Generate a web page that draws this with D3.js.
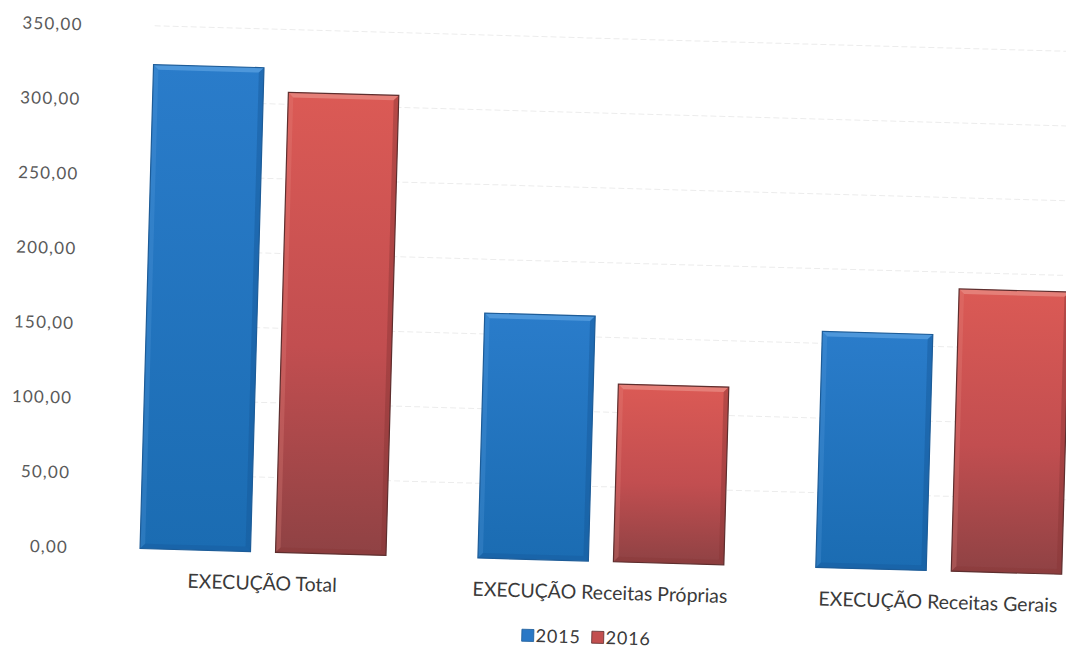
<!DOCTYPE html>
<html>
<head>
<meta charset="utf-8">
<script src="https://cdn.jsdelivr.net/npm/d3@7/dist/d3.min.js"></script>
<style>
  html, body { margin: 0; padding: 0; background: #ffffff; }
  svg { display: block; }
</style>
</head>
<body>
<svg id="chart" width="1066" height="651"></svg>
<script>
const categories = ["EXECUÇÃO Total", "EXECUÇÃO Receitas Próprias", "EXECUÇÃO Receitas Gerais"];
const seriesNames = ["2015", "2016"];
const values2015 = [324, 164, 158];
const values2016 = [308, 119, 189];
const yTickValues = [0, 50, 100, 150, 200, 250, 300, 350];
const yTickLabels = ["0,00", "50,00", "100,00", "150,00", "200,00", "250,00", "300,00", "350,00"];

const svg = d3.select("#chart");
const defs = svg.append("defs");

const gBlue = defs.append("linearGradient").attr("id", "gBlue").attr("x1", 0).attr("y1", 0).attr("x2", 0).attr("y2", 1);
gBlue.append("stop").attr("offset", "0%").attr("stop-color", "#2a7cca");
gBlue.append("stop").attr("offset", "100%").attr("stop-color", "#1b6cb2");
const gRed = defs.append("linearGradient").attr("id", "gRed").attr("x1", 0).attr("y1", 0).attr("x2", 0).attr("y2", 1);
gRed.append("stop").attr("offset", "0%").attr("stop-color", "#db5a55");
gRed.append("stop").attr("offset", "55%").attr("stop-color", "#c24e50");
gRed.append("stop").attr("offset", "100%").attr("stop-color", "#8f4244");

const colors = {
  "2015": { fill: "url(#gBlue)", stroke: "#1d5c98", hi: "#5aa0e0", sh: "#17599a", solid: "#2a78c6" },
  "2016": { fill: "url(#gRed)", stroke: "#5e2e2e", hi: "#e88c84", sh: "#8a3636", solid: "#c24f4f" }
};

const pivotX = 265, pivotY = 552, angle = 1.6;
const root = svg.append("g").attr("transform", `rotate(${angle},${pivotX},${pivotY})`);

const baseline = 552;
const y = d3.scaleLinear().domain([0, 350]).range([baseline, baseline - 350 * 1.494]);
const x0 = d3.scaleBand().domain(categories).range([94, 1108]);
const x1 = d3.scaleBand().domain(seriesNames).range([46, 292]).paddingInner(0.185);

// faint gridlines
root.append("g").selectAll("line").data(yTickValues.slice(1)).join("line")
  .attr("x1", 140).attr("x2", 1108)
  .attr("y1", d => y(d)).attr("y2", d => y(d))
  .attr("stroke", "#ececec").attr("stroke-width", 1)
  .attr("stroke-dasharray", "6,3");

// y axis labels via d3 axis
const yAxis = d3.axisLeft(y).tickValues(yTickValues)
  .tickFormat((d, i) => yTickLabels[i]).tickSize(0).tickPadding(0);
const yg = root.append("g").attr("transform", "translate(68,0)").call(yAxis);
yg.select(".domain").remove();
yg.selectAll("text")
  .attr("font-family", "Lato, 'Open Sans', sans-serif")
  .attr("font-size", 17).attr("fill", "#5a5a5a")
  .attr("letter-spacing", 1.2)
  .attr("dy", "0.35em");

// bars
const data = [];
categories.forEach((c, i) => {
  data.push({ cat: c, s: "2015", v: values2015[i] });
  data.push({ cat: c, s: "2016", v: values2016[i] });
});

const bars = root.append("g").selectAll("g.bar").data(data).join("g").attr("class", "bar");
bars.each(function(d) {
  const g = d3.select(this);
  const bx = x0(d.cat) + x1(d.s);
  const bw = x1.bandwidth();
  const by = y(d.v);
  const bh = y(0) - y(d.v);
  const col = colors[d.s];
  const b = 5;
  g.append("rect").attr("x", bx).attr("y", by).attr("width", bw).attr("height", bh)
    .attr("fill", col.fill);
  g.append("path")
    .attr("d", `M${bx},${by} L${bx + bw},${by} L${bx + bw - b},${by + b} L${bx + b},${by + b} Z`)
    .attr("fill", col.hi).attr("opacity", 0.75);
  g.append("path")
    .attr("d", `M${bx},${by} L${bx + b},${by + b} L${bx + b},${by + bh - b} L${bx},${by + bh} Z`)
    .attr("fill", col.hi).attr("opacity", 0.25);
  g.append("path")
    .attr("d", `M${bx + bw},${by} L${bx + bw - b},${by + b} L${bx + bw - b},${by + bh - b} L${bx + bw},${by + bh} Z`)
    .attr("fill", col.sh).attr("opacity", 0.45);
  g.append("path")
    .attr("d", `M${bx},${by + bh} L${bx + b},${by + bh - b} L${bx + bw - b},${by + bh - b} L${bx + bw},${by + bh} Z`)
    .attr("fill", col.sh).attr("opacity", 0.4);
  g.append("rect").attr("x", bx).attr("y", by).attr("width", bw).attr("height", bh)
    .attr("fill", "none").attr("stroke", col.stroke).attr("stroke-width", 1.2);
});

// category labels
root.append("g").selectAll("text").data(categories).join("text")
  .attr("x", d => x0(d) + x0.bandwidth() / 2)
  .attr("y", baseline + 38)
  .attr("text-anchor", "middle")
  .attr("font-family", "Lato, 'Open Sans', sans-serif")
  .attr("font-size", 19.5).attr("fill", "#3a3a3a")
  .text(d => d);

// legend
const legend = root.append("g").attr("transform", `translate(524,${baseline + 76})`);
const legItems = legend.selectAll("g").data(seriesNames).join("g")
  .attr("transform", (d, i) => `translate(${i * 70},0)`);
legItems.append("rect").attr("x", 0).attr("y", -6).attr("width", 12).attr("height", 12)
  .attr("fill", d => colors[d].solid).attr("stroke", d => colors[d].stroke).attr("stroke-width", 0.8);
legItems.append("text").attr("x", 14).attr("y", 0).attr("dy", "0.36em")
  .attr("font-family", "Lato, 'Open Sans', sans-serif")
  .attr("font-size", 18).attr("fill", "#3a3a3a").attr("letter-spacing", 0.8)
  .text(d => d);
</script>
</body>
</html>
